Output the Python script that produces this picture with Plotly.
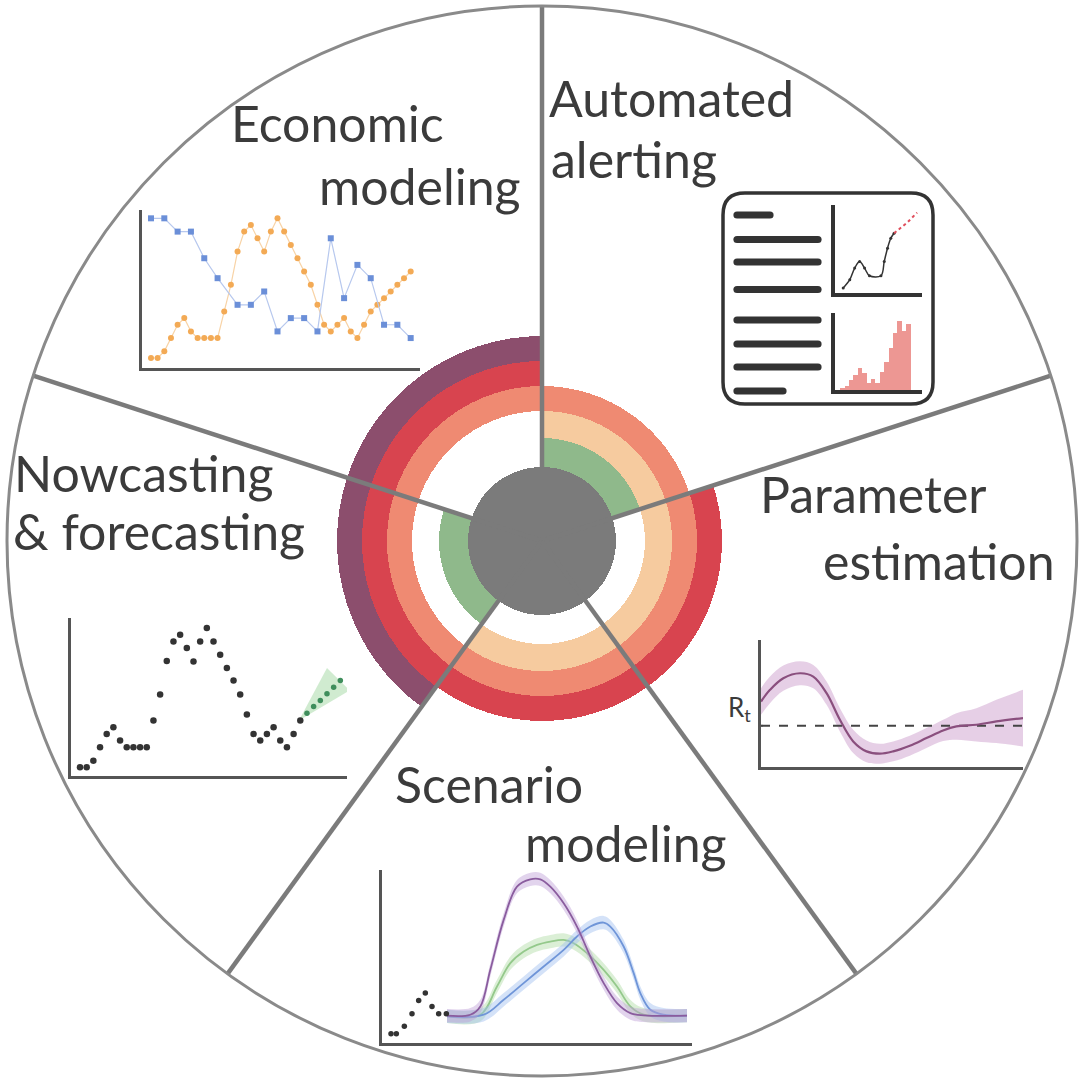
import plotly.graph_objects as go

W, H = 1081, 1080

# ---------------- wheel data ----------------
sectors = ["Automated alerting", "Economic modeling", "Nowcasting & forecasting",
           "Scenario modeling", "Parameter estimation"]
ring_names = ["green", "peach", "salmon", "red", "purple"]
ring_colors = ["#8fb98b", "#f6cb9f", "#ef8a72", "#d8444f", "#8c4e6d"]
ring_thickness = [29, 27, 25, 25, 25]
ring_members = [
    [1, 0, 1, 0, 0],   # green
    [1, 0, 0, 1, 1],   # peach
    [1, 1, 1, 1, 1],   # salmon
    [0, 1, 1, 1, 1],   # red
    [0, 1, 1, 0, 0],   # purple
]
hub_radius = 74

# ---------------- mini chart data ----------------
# Economic modeling
econ_orange = [3, 3, 5, 9, 13, 15, 11, 9, 9, 9, 9, 17, 25, 35, 41, 43, 39, 35, 41, 45,
               41, 37, 33, 29, 25, 19, 13, 11, 13, 15, 11, 9, 13, 17, 19, 21, 23, 25, 27, 29]
econ_blue_x = [0, 2, 4, 6, 8, 10, 13, 15, 17, 19, 21, 23, 25, 27, 29, 31, 33, 35, 37, 39]
econ_blue = [45, 45, 41, 41, 33, 27, 19, 19, 23, 11, 15, 15, 11, 39, 21, 31, 27, 13, 13, 9]

# Nowcasting & forecasting
now_obs = [2.6, 2.6, 4.6, 8.6, 12.6, 14.6, 10.6, 8.6, 8.6, 8.6, 8.6, 16.6, 24.4, 34.4, 40.3,
           42.3, 38.3, 34.3, 40.3, 44.3, 40.3, 36.3, 32.3, 28.6, 24.4, 18.4, 12.6, 10.6,
           12.6, 14.6, 10.6, 8.6, 12.6, 16.6]
now_fc = [18.8, 20.8, 22.6, 24.6, 26.6, 28.6]
now_cone_x = [32.8, 37.0, 40.4]
now_cone_y = [16.6, 32.3, 25.6]

# Parameter estimation (R_t)
rt_t = [0, 2.7, 6.7, 11.7, 15.7, 19.7, 23.7, 27.7, 31.7, 35.7, 39.7, 44.7, 49.7, 54.7,
        58.7, 64.7, 70.7, 78.7]
rt_y = [19.7, 23.2, 26.7, 28.2, 27.2, 22.2, 14.2, 7.7, 4.7, 4.0, 4.7, 6.4, 8.7, 11.0,
        12.2, 12.7, 13.7, 14.7]
rt_hw = [4, 4, 3.8, 3.6, 3.5, 3.5, 3.5, 3.5, 3.3, 3.0, 3.0, 3.0, 3.0, 3.2, 4, 5, 6.5, 8.5]
rt_threshold = 12.4

# Scenario modeling
sc_obs_t = [2.7, 4.3, 6.7, 9, 11, 13, 15, 17, 19.3]
sc_obs_y = [2.8, 2.8, 5, 8.8, 12.8, 15, 11, 8.8, 8.8]
sc_purple_t = [19.5, 26.5, 29.5, 32.5, 36.5, 40.5, 44.5, 47.5, 50.5, 54.5, 58.5, 62.5,
               66.5, 70.5, 74.5, 78.5, 91.5]
sc_purple_y = [8.2, 8.5, 11, 22, 37, 47, 49.2, 49.2, 47, 42, 35, 26, 18, 12, 9, 8.3, 8.2]
sc_green_t = [19.5, 29.5, 34.5, 38.5, 42.5, 46.5, 50.5, 54.5, 57.5, 61.5, 66.5, 70.5,
              74.5, 78.5, 91.5]
sc_green_y = [8, 8.5, 17, 24, 27.5, 29.5, 30.5, 31, 30, 27, 22, 17, 11, 8.5, 8.2]
sc_blue_t = [19.5, 30.5, 36.5, 42.5, 48.5, 54.5, 58.5, 62.5, 66.5, 68.5, 72.5, 75.5,
             77.5, 80.5, 84.5, 91.5]
sc_blue_y = [8, 8.5, 13, 18, 23, 28, 32, 35, 36.2, 35, 29, 21, 15, 10, 8.5, 8.2]
sc_band = 2.0

# Automated alerting icon
al_curve_t = [2.5, 4.5, 6, 7.5, 9, 10.5, 14, 15, 16, 17, 18]
al_curve_y = [1.5, 4, 7.5, 9.5, 7.5, 5.2, 5.2, 9.5, 13.5, 16.5, 18]
al_alert_t = [18, 20, 22, 25]
al_alert_y = [18, 19.7, 21.2, 24.2]
al_hist = [1.7, 4, 10, 15, 22, 16.7, 6.7, 11, 6.7, 18, 28, 41.7, 56.7, 68, 58, 65]
icon_text_len = [33, 81, 81, 81, 81, 81, 81, 46]

# ---------------- figure ----------------
fig = go.Figure()
cx, cy, R = 542, 541, 535
theta_c = [54 + 72 * i for i in range(len(sectors))]

# rings
base = hub_radius
for name, col, th, mem in zip(ring_names, ring_colors, ring_thickness, ring_members):
    th_list = [t for t, m in zip(theta_c, mem) if m]
    fig.add_trace(go.Barpolar(
        r=[th] * len(th_list), base=[base] * len(th_list), theta=th_list,
        width=[72] * len(th_list), marker=dict(color=col, line=dict(width=0)),
        name=name, showlegend=False, hoverinfo="skip"))
    base += th

# hub
fig.add_trace(go.Barpolar(r=[hub_radius] * 5, base=[0] * 5, theta=theta_c, width=[72] * 5,
                          marker=dict(color="#7b7b7b", line=dict(width=0)),
                          showlegend=False, hoverinfo="skip"))
# spokes
for t in theta_c:
    a = t - 36
    fig.add_trace(go.Scatterpolar(r=[0, R], theta=[a, a], mode="lines",
                                  line=dict(color="#7b7b7b", width=4.5),
                                  showlegend=False, hoverinfo="skip"))


def dom(x0, x1, y0, y1):
    return [x0 / W, x1 / W], [1 - y1 / H, 1 - y0 / H]


axes = {}


def add_axes(n, box, xr, yr, lc="#555555", lw=2.5):
    xd, yd = dom(*box)
    ax = dict(domain=xd, range=xr, showline=True, linecolor=lc, linewidth=lw,
              showgrid=False, zeroline=False, showticklabels=False, ticks="",
              anchor="y%d" % n, fixedrange=True)
    ay = dict(domain=yd, range=yr, showline=True, linecolor=lc, linewidth=lw,
              showgrid=False, zeroline=False, showticklabels=False, ticks="",
              anchor="x%d" % n, fixedrange=True)
    axes["xaxis%d" % n] = ax
    axes["yaxis%d" % n] = ay


# Economic modeling (x2/y2)
add_axes(2, (142, 420, 210, 368), [-1.35, 40.4], [0, 47.5])
fig.add_trace(go.Scatter(x=list(range(len(econ_orange))), y=econ_orange, mode="lines+markers",
                         line=dict(color="#f8d3a6", width=1.2),
                         marker=dict(color="#f3aa55", size=6), xaxis="x2", yaxis="y2",
                         showlegend=False))
fig.add_trace(go.Scatter(x=econ_blue_x, y=econ_blue, mode="lines+markers",
                         line=dict(color="#b7c8ee", width=1.2),
                         marker=dict(color="#6b8fd8", size=6, symbol="square"),
                         xaxis="x2", yaxis="y2", showlegend=False))

# Nowcasting (x3/y3)
add_axes(3, (71, 347, 618, 776), [-1.35, 40], [0, 47.3])
fig.add_trace(go.Scatter(x=now_cone_x, y=now_cone_y, fill="toself", mode="lines",
                         line=dict(width=0), fillcolor="rgba(150,210,150,0.45)",
                         xaxis="x3", yaxis="y3", showlegend=False))
fig.add_trace(go.Scatter(x=list(range(len(now_obs))), y=now_obs, mode="markers",
                         marker=dict(color="#333333", size=6.5), xaxis="x3", yaxis="y3",
                         showlegend=False))
fig.add_trace(go.Scatter(x=list(range(len(now_obs), len(now_obs) + len(now_fc))), y=now_fc,
                         mode="markers", marker=dict(color="#3f8e5c", size=5.5),
                         xaxis="x3", yaxis="y3", showlegend=False))

# Parameter estimation (x4/y4)
add_axes(4, (761, 1023, 640, 767), [0, 78.7], [0, 38.2])
up = [y + h for y, h in zip(rt_y, rt_hw)]
lo = [y - h for y, h in zip(rt_y, rt_hw)]
fig.add_trace(go.Scatter(x=rt_t, y=up, mode="lines", line=dict(width=0, shape="spline"),
                         xaxis="x4", yaxis="y4", showlegend=False))
fig.add_trace(go.Scatter(x=rt_t, y=lo, mode="lines", line=dict(width=0, shape="spline"),
                         fill="tonexty", fillcolor="rgba(205,160,205,0.5)",
                         xaxis="x4", yaxis="y4", showlegend=False))
fig.add_trace(go.Scatter(x=[rt_t[0], rt_t[-1]], y=[rt_threshold] * 2, mode="lines",
                         line=dict(color="#444444", width=2.2, dash="dash"),
                         xaxis="x4", yaxis="y4", showlegend=False))
fig.add_trace(go.Scatter(x=rt_t, y=rt_y, mode="lines",
                         line=dict(color="#8a4f7e", width=2.2, shape="spline"),
                         xaxis="x4", yaxis="y4", showlegend=False))

# Scenario modeling (x5/y5)
add_axes(5, (382, 692, 870, 1043), [0, 93], [0, 52])
for tt, yy, lc, bc in [(sc_green_t, sc_green_y, "#94c98b", "rgba(175,220,165,0.45)"),
                       (sc_blue_t, sc_blue_y, "#6f95d8", "rgba(160,190,240,0.45)"),
                       (sc_purple_t, sc_purple_y, "#8a5c9e", "rgba(190,160,215,0.45)")]:
    fig.add_trace(go.Scatter(x=tt, y=[v + sc_band for v in yy], mode="lines",
                             line=dict(width=0, shape="spline"), xaxis="x5", yaxis="y5",
                             showlegend=False))
    fig.add_trace(go.Scatter(x=tt, y=[v - sc_band for v in yy], mode="lines",
                             line=dict(width=0, shape="spline"), fill="tonexty",
                             fillcolor=bc, xaxis="x5", yaxis="y5", showlegend=False))
    fig.add_trace(go.Scatter(x=tt, y=yy, mode="lines", line=dict(color=lc, width=1.8,
                             shape="spline"), xaxis="x5", yaxis="y5", showlegend=False))
fig.add_trace(go.Scatter(x=sc_obs_t, y=sc_obs_y, mode="markers",
                         marker=dict(color="#333333", size=5.5), xaxis="x5", yaxis="y5",
                         showlegend=False))

# Automated alerting icon charts (x6/y6, x7/y7)
add_axes(6, (835, 922, 205, 293), [0, 26.5], [0, 26.5], lc="#333333", lw=4)
fig.add_trace(go.Scatter(x=al_curve_t, y=al_curve_y, mode="lines+markers",
                         line=dict(color="#333333", width=1.5, shape="spline"),
                         marker=dict(color="#333333", size=3), xaxis="x6", yaxis="y6",
                         showlegend=False))
fig.add_trace(go.Scatter(x=al_alert_t, y=al_alert_y, mode="lines",
                         line=dict(color="#e04e5c", width=2, dash="dot"),
                         xaxis="x6", yaxis="y6", showlegend=False))
add_axes(7, (835, 922, 313, 390), [-1.7, 18.1], [0, 76], lc="#333333", lw=4)
fig.add_trace(go.Bar(x=list(range(len(al_hist))), y=al_hist, width=1,
                     marker=dict(color="rgba(232,125,120,0.8)", line=dict(width=0)),
                     xaxis="x7", yaxis="y7", showlegend=False))

# ---------------- shapes (icon) ----------------
shapes = []
x0, y0, x1, y1, rr = 723, 193, 933, 404, 22
shapes.append(dict(type="path", xref="x", yref="y",
                   path=(f"M{x0+rr},{y0} L{x1-rr},{y0} Q{x1},{y0} {x1},{y0+rr} "
                         f"L{x1},{y1-rr} Q{x1},{y1} {x1-rr},{y1} L{x0+rr},{y1} "
                         f"Q{x0},{y1} {x0},{y1-rr} L{x0},{y0+rr} Q{x0},{y0} {x0+rr},{y0} Z"),
                   line=dict(color="#333333", width=3.5), fillcolor="rgba(0,0,0,0)"))
line_ys = [215, 239.5, 262, 289.5, 320, 344, 367, 391]
for ly, ln in zip(line_ys, icon_text_len):
    a, b, h = 737, 737 + ln, 3.6
    shapes.append(dict(type="path", xref="x", yref="y",
                       path=(f"M{a},{ly-h} L{b},{ly-h} Q{b+h},{ly-h} {b+h},{ly} "
                             f"Q{b+h},{ly+h} {b},{ly+h} L{a},{ly+h} Q{a-h},{ly+h} {a-h},{ly} "
                             f"Q{a-h},{ly-h} {a},{ly-h} Z"),
                       line=dict(width=0), fillcolor="#333333"))

# ---------------- labels ----------------
FS = 50
labels = [("Economic", 229, 142), ("modeling", 317, 205),
          ("Automated", 547, 117), ("alerting", 549, 178),
          ("Nowcasting", 12, 492), ("& forecasting", 11, 550),
          ("Parameter", 758, 513), ("estimation", 821, 580),
          ("Scenario", 393, 803), ("modeling", 523, 862)]
annotations = []
for txt, lx, by in labels:
    annotations.append(dict(text=txt, x=lx, y=by - 0.387 * FS, xref="x", yref="y",
                            xanchor="left", yanchor="middle", showarrow=False,
                            font=dict(family="Lato", size=FS, color="#3b3b3b")))
annotations.append(dict(text="R<sub>t</sub>", x=753, y=708, xref="x", yref="y",
                        xanchor="right", yanchor="middle", showarrow=False,
                        font=dict(family="Lato", size=26, color="#3b3b3b")))

fig.update_layout(
    width=W, height=H, margin=dict(l=0, r=0, t=0, b=0),
    paper_bgcolor="white", plot_bgcolor="rgba(0,0,0,0)", showlegend=False,
    xaxis=dict(domain=[0, 1], range=[0, W], visible=False, fixedrange=True),
    yaxis=dict(domain=[0, 1], range=[H, 0], visible=False, fixedrange=True),
    polar=dict(
        domain=dict(x=[(cx - R) / W, (cx + R) / W], y=[1 - (cy + R) / H, 1 - (cy - R) / H]),
        bgcolor="rgba(0,0,0,0)", hole=0,
        radialaxis=dict(visible=False, range=[0, R]),
        angularaxis=dict(visible=True, showline=True, linecolor="#8a8a8a", linewidth=3,
                         showgrid=False, showticklabels=False, ticks="",
                         direction="counterclockwise", rotation=0)),
    bargap=0, barmode="overlay",
    shapes=shapes, annotations=annotations,
    **axes)

fig.write_html("out.html", config={"displayModeBar": False},
               post_script="document.body.style.margin='0';")
